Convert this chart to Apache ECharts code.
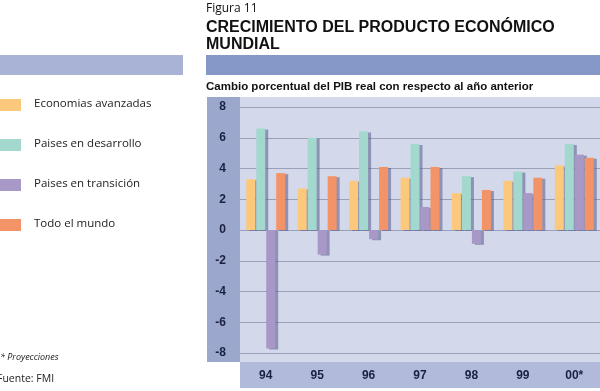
<!DOCTYPE html>
<html><head><meta charset="utf-8">
<script src="https://cdn.jsdelivr.net/npm/echarts@6/dist/echarts.min.js"></script>
<style>html,body{margin:0;padding:0;background:#fff}#c{width:600px;height:391px}</style>
</head><body><div id="c"></div>
<script>
const categories = ['94','95','96','97','98','99','00*'];
const seriesNames = ['Economias avanzadas','Paises en desarrollo','Paises en transición','Todo el mundo'];
const avanzadas   = [3.3, 2.7, 3.2, 3.4, 2.4, 3.2, 4.2];
const desarrollo  = [6.6, 6.0, 6.4, 5.6, 3.5, 3.8, 5.6];
const transicion  = [-7.7, -1.6, -0.6, 1.5, -0.9, 2.4, 4.9];
const mundo       = [3.7, 3.5, 4.1, 4.1, 2.6, 3.4, 4.7];
const yTicks = [-8, -6, -4, -2, 0, 2, 4, 6, 8];
const colors = ['#fcc97c', '#a2d8ce', '#a898c7', '#f39468'];

const chart = echarts.init(document.getElementById('c'), null, {renderer: 'canvas'});
const allData = [avanzadas, desarrollo, transicion, mundo];
const font = 'Liberation Sans, Arial, sans-serif';

const legendGraphics = [];
seriesNames.forEach((n, i) => {
  const y = 99 + i * 40;
  legendGraphics.push({type: 'rect', shape: {x: 0, y: y, width: 21, height: 12}, style: {fill: colors[i]}, silent: true});
  legendGraphics.push({type: 'text', left: 34, top: y - 1, style: {text: n, fill: '#222', font: '11.5px "Open Sans", sans-serif'}, silent: true});
});

chart.setOption({
  animation: false,
  color: colors,
  grid: {left: 240, right: 0, top: 107, bottom: 38},
  graphic: [
    {type: 'text', left: 206, top: 3, style: {text: 'Figura 11', fill: '#111', font: '12px "Open Sans", sans-serif'}},
    {type: 'text', left: 206, top: 20, style: {text: 'CRECIMIENTO DEL PRODUCTO ECONÓMICO', fill: '#111', font: 'bold 16px ' + font}},
    {type: 'text', left: 206, top: 37, style: {text: 'MUNDIAL', fill: '#111', font: 'bold 16px ' + font}},
    {type: 'rect', shape: {x: 0, y: 55, width: 183, height: 20}, style: {fill: '#a9b3d6'}, silent: true},
    {type: 'rect', shape: {x: 206, y: 55, width: 394, height: 20}, style: {fill: '#8698c7'}, silent: true},
    {type: 'text', left: 206, top: 81, style: {text: 'Cambio porcentual del PIB real con respecto al año anterior', fill: '#111', font: 'bold 11.5px ' + font}},
    {type: 'rect', z: -10, shape: {x: 207, y: 97, width: 33, height: 265}, style: {fill: '#9ba7cd'}, silent: true},
    {type: 'rect', z: -10, shape: {x: 240, y: 97, width: 360, height: 265}, style: {fill: '#d4d8eb'}, silent: true},
    {type: 'rect', z: -10, shape: {x: 240, y: 362, width: 360, height: 26}, style: {fill: '#b2badb'}, silent: true},
    {type: 'text', left: 0, top: 353, style: {text: '* Proyecciones', fill: '#222', font: 'italic 9px "Open Sans", sans-serif'}},
    {type: 'text', left: -3, top: 374, style: {text: 'Fuente: FMI', fill: '#222', font: '10.5px "Open Sans", sans-serif'}},
    ...legendGraphics
  ],
  xAxis: {
    type: 'category', data: categories,
    axisLine: {show: false}, axisTick: {show: false},
    axisLabel: {margin: 17, color: '#1b2040', fontWeight: 'bold', fontSize: 12, fontFamily: font}
  },
  yAxis: {
    type: 'value', min: -8, max: 8, interval: 2,
    axisLine: {show: false}, axisTick: {show: false},
    axisLabel: {margin: 14, color: '#1b2040', fontWeight: 'bold', fontSize: 12, fontFamily: font,
      formatter: v => yTicks.includes(v) ? String(v) : ''},
    splitLine: {lineStyle: {color: '#9a9fba', width: 1}}
  },
  series: allData.map((d, i) => ({
    name: seriesNames[i], type: 'bar', data: d,
    barWidth: 9, barGap: '11%',
    itemStyle: {color: colors[i], shadowColor: 'rgba(95,100,145,0.6)', shadowOffsetX: 3, shadowOffsetY: 1, shadowBlur: 0}
  }))
});
</script></body></html>
